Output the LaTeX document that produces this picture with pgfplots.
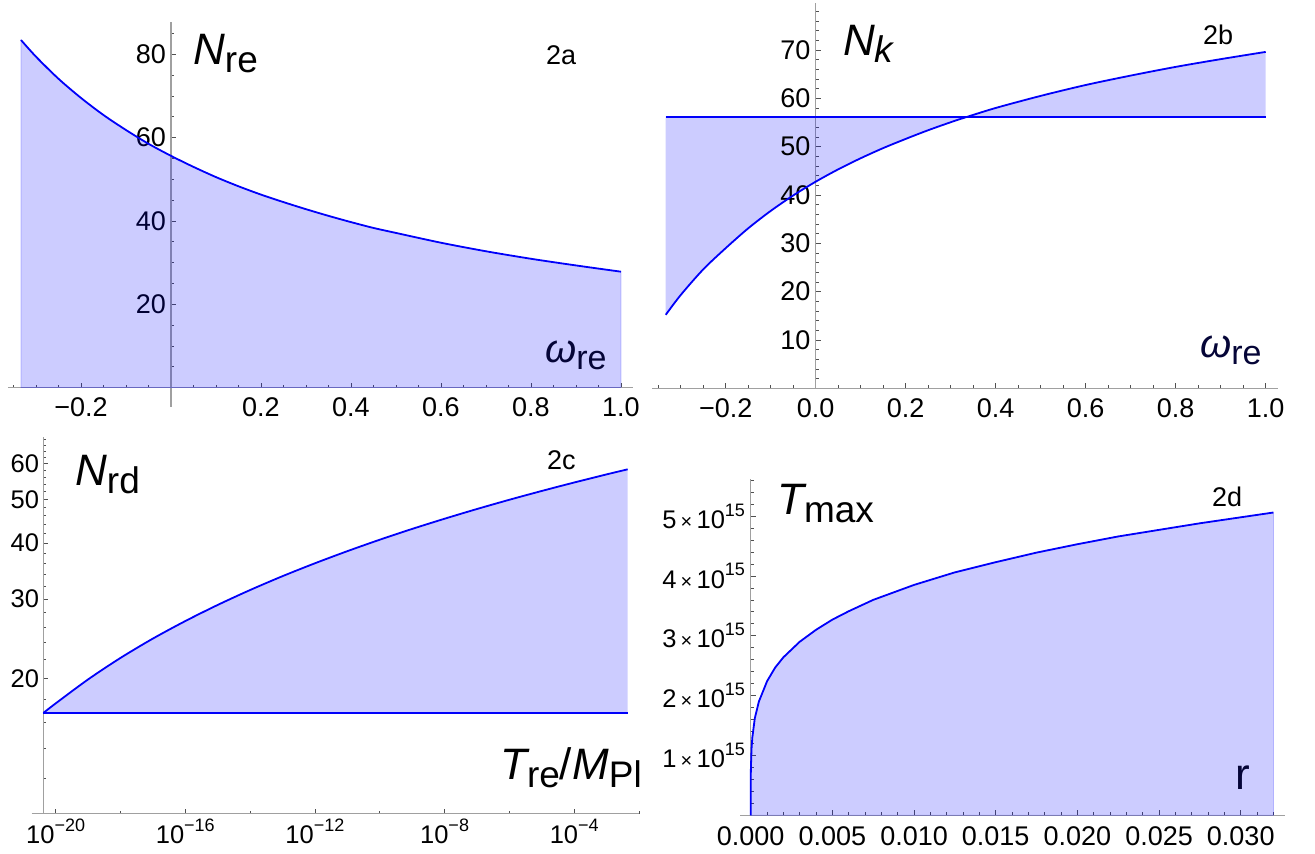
\documentclass[border=0pt]{standalone}
\usepackage{fontspec}
\setmainfont{Liberation Sans}
\usepackage{pgfplots}
\pgfplotsset{compat=1.18}
\usepgfplotslibrary{fillbetween}

\definecolor{axgray}{RGB}{160,160,160}
\definecolor{tkgray}{RGB}{80,80,80}
\definecolor{curve}{RGB}{0,0,250}
\definecolor{navy}{RGB}{5,5,55}

% label pieces (Mathematica look)
\newcommand{\mainf}{\fontsize{44}{44}\selectfont}
\newcommand{\sub}[1]{\raisebox{-8pt}{\fontsize{37}{37}\selectfont #1}}
\newcommand{\ex}[1]{10\raisebox{0.48em}{\fontsize{18}{18}\selectfont #1}}
\newcommand{\sci}[1]{#1\,{\fontsize{20}{20}\selectfont ×}\,10\raisebox{0.48em}{\fontsize{18}{18}\selectfont 15}}
\newcommand{\tagf}{\fontsize{27}{27}\selectfont}

\pgfplotsset{
  mma/.style={
    scale only axis, clip=false,
    axis line style={draw=axgray, line width=1pt},
    tick style={draw=tkgray, line width=0.7pt},
    major tick length=5pt, minor tick length=3pt,
    tick align=inside,
    scaled ticks=false,
    every tick label/.append style={font=\fontsize{27}{27}\selectfont, inner sep=0pt, text=black},
  },
  fillst/.style={draw=blue, draw opacity=0.25, line width=0.7pt, fill=blue, fill opacity=0.2},
  curvest/.style={draw=curve, line width=1.8pt},
}

\begin{document}
\begin{tikzpicture}

% ---------------- 2a
\begin{axis}[mma, at={(8pt,447.3pt)}, anchor=south west, width=625pt, height=385pt,
  axis lines*=middle,
  xmin=-0.3622, xmax=1.0267, ymin=-4.6, ymax=87.8,
  y axis line style={line width=1.8pt},
  xticklabel style={yshift=-10pt}, yticklabel style={xshift=-5pt},
  xtick={-0.2,0.2,0.4,0.6,0.8,1.0}, xticklabels={−0.2,0.2,0.4,0.6,0.8,1.0},
  minor xtick={-0.35,-0.3,-0.25,-0.15,-0.1,-0.05,0.05,0.1,0.15,0.25,0.3,0.35,0.45,0.5,0.55,0.65,0.7,0.75,0.85,0.9,0.95},
  ytick={20,40,60,80}, yticklabels={20,40,60,80},
  minor ytick={5,10,15,25,30,35,45,50,55,65,70,75,85},
]
\addplot[fillst, smooth] coordinates {
  (-0.3333,83.4) (-0.3,79.4) (-0.25,74.1) (-0.2,69.5) (-0.15,65.4) (-0.1,61.8)
  (-0.05,58.5) (0,55.6) (0.05,52.95) (0.1,50.5) (0.15,48.3) (0.2,46.3) (0.25,44.5)
  (0.3,42.8) (0.35,41.2) (0.4,39.7) (0.45,38.3) (0.5,37.1) (0.6,34.75) (0.7,32.7)
  (0.8,30.9) (0.9,29.3) (1.0,27.8)} \closedcycle;
\addplot[curvest, smooth] coordinates {
  (-0.3333,83.4) (-0.3,79.4) (-0.25,74.1) (-0.2,69.5) (-0.15,65.4) (-0.1,61.8)
  (-0.05,58.5) (0,55.6) (0.05,52.95) (0.1,50.5) (0.15,48.3) (0.2,46.3) (0.25,44.5)
  (0.3,42.8) (0.35,41.2) (0.4,39.7) (0.45,38.3) (0.5,37.1) (0.6,34.75) (0.7,32.7)
  (0.8,30.9) (0.9,29.3) (1.0,27.8)};
\end{axis}

% ---------------- 2b
\begin{axis}[mma, at={(652pt,465.7pt)}, anchor=south west, width=626pt, height=385.6pt,
  axis lines*=middle, hide obscured x ticks=false,
  xmin=-0.3638, xmax=1.0273, ymin=0, ymax=79.78,
  xticklabel style={yshift=-10pt}, yticklabel style={xshift=-5pt},
  xtick={-0.2,0,0.2,0.4,0.6,0.8,1.0}, xticklabels={−0.2,0.0,0.2,0.4,0.6,0.8,1.0},
  minor xtick={-0.35,-0.3,-0.25,-0.15,-0.1,-0.05,0.05,0.1,0.15,0.25,0.3,0.35,0.45,0.5,0.55,0.65,0.7,0.75,0.85,0.9,0.95},
  ytick={10,20,30,40,50,60,70}, yticklabels={10,20,30,40,50,60,70},
  minor ytick={2,4,6,8,12,14,16,18,22,24,26,28,32,34,36,38,42,44,46,48,52,54,56,58,62,64,66,68,72,74,76,78},
]
\addplot[draw=none, smooth, name path=nk] coordinates {
  (-0.3333,15.2) (-0.3,19.3) (-0.25,24.6) (-0.2,29.0) (-0.15,33.1) (-0.1,36.7)
  (-0.05,39.9) (0,42.75) (0.05,45.3) (0.1,47.6) (0.15,49.7) (0.2,51.6) (0.25,53.4)
  (0.3,55.05) (0.3333,56.07) (0.4,58.0) (0.5,60.5) (0.6,62.75) (0.7,64.7)
  (0.8,66.5) (0.9,68.1) (1.0,69.6)};
\addplot[draw=none, name path=nline] coordinates {(-0.3333,56.07) (1.0,56.07)};
\addplot[fill=blue, fill opacity=0.2, draw=none] fill between[of=nk and nline];
\addplot[curvest, smooth] coordinates {
  (-0.3333,15.2) (-0.3,19.3) (-0.25,24.6) (-0.2,29.0) (-0.15,33.1) (-0.1,36.7)
  (-0.05,39.9) (0,42.75) (0.05,45.3) (0.1,47.6) (0.15,49.7) (0.2,51.6) (0.25,53.4)
  (0.3,55.05) (0.3333,56.07) (0.4,58.0) (0.5,60.5) (0.6,62.75) (0.7,64.7)
  (0.8,66.5) (0.9,68.1) (1.0,69.6)};
\addplot[curvest] coordinates {(-0.3333,56.07) (1.0,56.07)};
\end{axis}

% ---------------- 2c
\begin{axis}[mma, at={(31.7pt,40.3pt)}, anchor=south west, width=607.6pt, height=376.7pt,
  xmode=log, ymode=log, axis lines*=left, axis y line shift=-11.6pt,
  xmin=1.82e-21, xmax=1.02e-2, ymin=10, ymax=68.8,
  xtick={1e-20,1e-16,1e-12,1e-8,1e-4},
  xticklabels={\ex{−20},\ex{−16},\ex{−12},\ex{−8},\ex{−4}},
  minor xtick={1e-18,1e-14,1e-10,1e-6,1e-2},
  ytick={20,30,40,50,60}, yticklabels={20,30,40,50,60},
  minor ytick={12,14,16,18,22,24,26,28,32,34,36,38,42,44,46,48,52,54,56,58,62,64,66,68},
  every tick label/.append style={font=\fontsize{25.5}{25.5}\selectfont},
  xticklabel style={yshift=-5pt},
  yticklabel style={xshift=-4pt},
]
% shaded band: curve out, horizontal line back
\addplot[fill=blue, fill opacity=0.2, draw=none] coordinates {
  (4.17e-21,16.75) (1e-20,17.59) (3.16e-20,18.74) (1e-19,19.89) (3.16e-19,21.05)
  (1e-18,22.20) (1e-17,24.51) (1e-16,26.81) (1e-15,29.12) (1e-14,31.43)
  (1e-13,33.74) (1e-12,36.04) (1e-11,38.35) (1e-10,40.66) (1e-9,42.97)
  (1e-8,45.27) (1e-7,47.58) (1e-6,49.89) (1e-5,52.19) (1e-4,54.50)
  (1e-3,56.81) (4.47e-3,58.30) (4.47e-3,16.75)} -- cycle;
\addplot[curvest, smooth] coordinates {
  (4.17e-21,16.75) (1e-20,17.59) (1e-19,19.89) (1e-18,22.20) (1e-17,24.51)
  (1e-16,26.81) (1e-15,29.12) (1e-14,31.43) (1e-13,33.74) (1e-12,36.04)
  (1e-11,38.35) (1e-10,40.66) (1e-9,42.97) (1e-8,45.27) (1e-7,47.58)
  (1e-6,49.89) (1e-5,52.19) (1e-4,54.50) (1e-3,56.81) (4.47e-3,58.30)};
\addplot[curvest] coordinates {(4.17e-21,16.75) (1e-12,16.75) (4.47e-3,16.75)};
\end{axis}

% ---------------- 2d
\begin{axis}[mma, at={(740pt,38.7pt)}, anchor=south west, width=545pt, height=336pt,
  axis lines*=middle, hide obscured x ticks=false,
  xmin=-0.000655, xmax=0.03271, ymin=0, ymax=5.615e15,
  xtick={0,0.005,0.01,0.015,0.02,0.025,0.03},
  xticklabels={0.000,0.005,0.010,0.015,0.020,0.025,0.030},
  minor xtick={0.001,0.002,0.003,0.004,0.006,0.007,0.008,0.009,0.011,0.012,0.013,0.014,0.016,0.017,0.018,0.019,0.021,0.022,0.023,0.024,0.026,0.027,0.028,0.029,0.031,0.032},
  ytick={1e15,2e15,3e15,4e15,5e15},
  yticklabels={\sci{1},\sci{2},\sci{3},\sci{4},\sci{5}},
  minor ytick={0.2e15,0.4e15,0.6e15,0.8e15,1.2e15,1.4e15,1.6e15,1.8e15,2.2e15,2.4e15,2.6e15,2.8e15,3.2e15,3.4e15,3.6e15,3.8e15,4.2e15,4.4e15,4.6e15,4.8e15,5.2e15,5.4e15,5.6e15},
  yticklabel style={font=\fontsize{25.5}{25.5}\selectfont, xshift=-5.5pt},
  xticklabel style={yshift=-11pt},
]
\addplot[fillst] coordinates {
  (0,0) (1e-7,0.26e15) (1e-6,0.44e15) (1e-5,0.76e15) (5e-5,1.11e15) (1e-4,1.30e15)
  (2.5e-4,1.62e15) (5e-4,1.90e15) (1e-3,2.24e15) (1.5e-3,2.47e15) (2e-3,2.64e15)
  (3e-3,2.90e15) (4e-3,3.10e15) (5e-3,3.27e15) (6e-3,3.41e15) (7.5e-3,3.60e15)
  (0.01,3.85e15) (0.0125,4.06e15) (0.015,4.23e15) (0.0175,4.39e15) (0.02,4.53e15)
  (0.0225,4.66e15) (0.025,4.77e15) (0.0275,4.88e15) (0.03,4.98e15) (0.032,5.06e15)} \closedcycle;
\addplot[curvest] coordinates {
  (0,0) (1e-7,0.26e15) (1e-6,0.44e15) (1e-5,0.76e15) (5e-5,1.11e15) (1e-4,1.30e15)
  (2.5e-4,1.62e15) (5e-4,1.90e15) (1e-3,2.24e15) (1.5e-3,2.47e15) (2e-3,2.64e15)
  (3e-3,2.90e15) (4e-3,3.10e15) (5e-3,3.27e15) (6e-3,3.41e15) (7.5e-3,3.60e15)
  (0.01,3.85e15) (0.0125,4.06e15) (0.015,4.23e15) (0.0175,4.39e15) (0.02,4.53e15)
  (0.0225,4.66e15) (0.025,4.77e15) (0.0275,4.88e15) (0.03,4.98e15) (0.032,5.06e15)};
\end{axis}

% ---------------- labels
\node[anchor=base west, inner sep=0pt] at (193pt,789pt) {\mainf\itshape N\upshape\sub{re}};
\node[anchor=base west, inner sep=0pt] at (546pt,789.7pt) {\tagf 2a};
\node[anchor=base west, inner sep=0pt, text=navy] at (545pt,491pt) {{\fontsize{40}{40}\selectfont\itshape ω}\raisebox{-7pt}{\fontsize{34}{34}\selectfont re}};

\node[anchor=base west, inner sep=0pt] at (843pt,798pt) {\mainf\itshape N\raisebox{-7pt}{\fontsize{37}{37}\selectfont k}};
\node[anchor=base west, inner sep=0pt] at (1203pt,809pt) {\tagf 2b};
\node[anchor=base west, inner sep=0pt, text=navy] at (1200pt,496pt) {{\fontsize{40}{40}\selectfont\itshape ω}\raisebox{-7pt}{\fontsize{34}{34}\selectfont re}};

\node[anchor=base west, inner sep=0pt] at (75pt,368pt) {\mainf\itshape N\upshape\sub{rd}};
\node[anchor=base west, inner sep=0pt] at (547pt,384.3pt) {\tagf 2c};
\node[anchor=base west, inner sep=0pt] at (500pt,74.3pt) {\mainf\itshape T\upshape\sub{re}/\itshape M\upshape\sub{Pl}};

\node[anchor=base west, inner sep=0pt] at (777pt,339pt) {\mainf\itshape T\upshape\sub{max}};
\node[anchor=base west, inner sep=0pt] at (1212pt,347pt) {\tagf 2d};
\node[anchor=base west, inner sep=0pt, text=navy] at (1235pt,64pt) {\fontsize{44}{44}\selectfont r};

\pgfresetboundingbox
\path[use as bounding box] (0pt,0pt) rectangle (1315pt,854pt);
\end{tikzpicture}
\end{document}
